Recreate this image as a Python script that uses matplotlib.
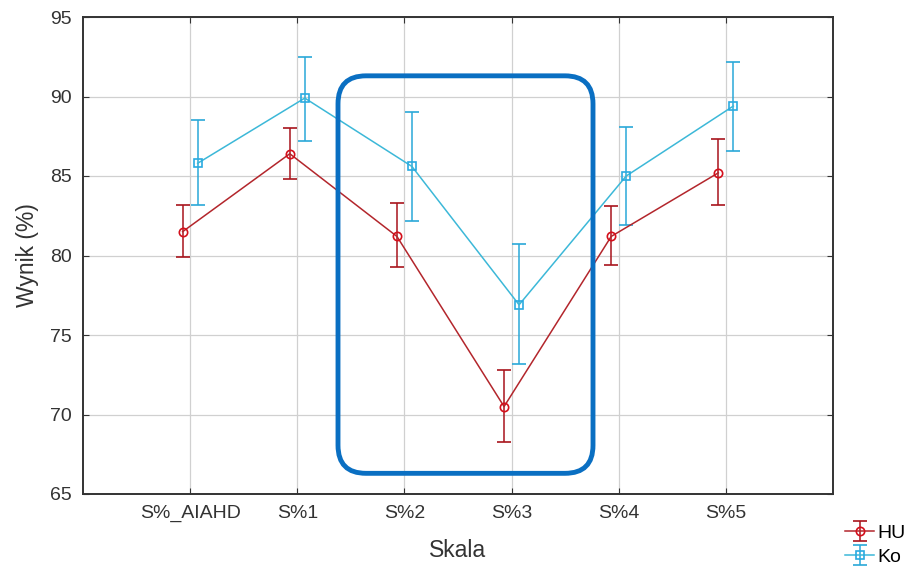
import numpy as np
import matplotlib.pyplot as plt
from matplotlib.patches import FancyBboxPatch

plt.rcParams['font.family'] = ['Liberation Sans', 'DejaVu Sans']

# Data
skale = ["S%_AIAHD", "S%1", "S%2", "S%3", "S%4", "S%5"]
hu_mean = [81.5, 86.4, 81.2, 70.5, 81.2, 85.2]
hu_low = [79.9, 84.8, 79.3, 68.3, 79.4, 83.2]
hu_high = [83.2, 88.0, 83.3, 72.8, 83.1, 87.3]
ko_mean = [85.8, 89.9, 85.6, 76.9, 85.0, 89.4]
ko_low = [83.2, 87.2, 82.2, 73.2, 81.9, 86.6]
ko_high = [88.5, 92.5, 89.0, 80.7, 88.1, 92.2]
labels = ["HU", "Ko"]

fig = plt.figure(figsize=(9.11, 5.68), dpi=100)
ax = fig.add_axes([83 / 911, 74 / 568, 750 / 911, 477 / 568])

x = np.arange(len(skale))
off = 0.07

def draw(xs, mean, low, high, line_c, err_c, mark_c, marker, label):
    mean = np.array(mean)
    err = [mean - np.array(low), np.array(high) - mean]
    return ax.errorbar(xs, mean, yerr=err, color=line_c, ecolor=err_c, marker=marker,
                       mfc="none", mec=mark_c, ms=6, mew=1.2, lw=1.1, capsize=5,
                       elinewidth=1.1, capthick=1.1, label=label, zorder=3)

h1 = draw(x - off, hu_mean, hu_low, hu_high, "#b3262c", "#a8141c", "#d4101c", "o", labels[0])
h2 = draw(x + off, ko_mean, ko_low, ko_high, "#3cb8d8", "#2aa8d8", "#2aaae0", "s", labels[1])

ax.set_xlim(-1, 6)
ax.set_ylim(65, 95)
ax.set_xticks(x)
ax.set_xticklabels(skale)
ax.set_yticks(np.arange(65, 96, 5))
ax.grid(True, color="#d0d0d0", lw=0.9)
ax.set_axisbelow(True)
ax.tick_params(direction="in", top=True, right=True, labelsize=14, length=4,
               color="#333333", labelcolor="#333333", pad=8)
for s in ax.spines.values():
    s.set_linewidth(1.4)
    s.set_color("#333333")
ax.set_xlabel("Skala", fontsize=16.5, color="#333333", labelpad=12)
ax.set_ylabel("Wynik (%)", fontsize=16.5, color="#333333", labelpad=8)

# highlight box around S%2 - S%3
fig.canvas.draw()
x0, y0 = ax.transData.transform((1.38, 66.3))
x1, y1 = ax.transData.transform((3.76, 91.3))
r = 28
box = FancyBboxPatch((x0 + r, y0 + r), x1 - x0 - 2 * r, y1 - y0 - 2 * r,
                     boxstyle="round,pad=%d,rounding_size=%d" % (r, r),
                     fill=False, ec="#0a6fc2", lw=3.5, transform=None, zorder=5)
fig.patches.append(box)

ax.legend(handles=[h1, h2], loc="upper left", bbox_to_anchor=(845 / 911, 1 - 524 / 568),
          bbox_transform=fig.transFigure, frameon=False, fontsize=14,
          handlelength=1.5, handletextpad=0.15, labelspacing=0.35, borderpad=0,
          borderaxespad=0)

fig.savefig("out.png", dpi=100)
